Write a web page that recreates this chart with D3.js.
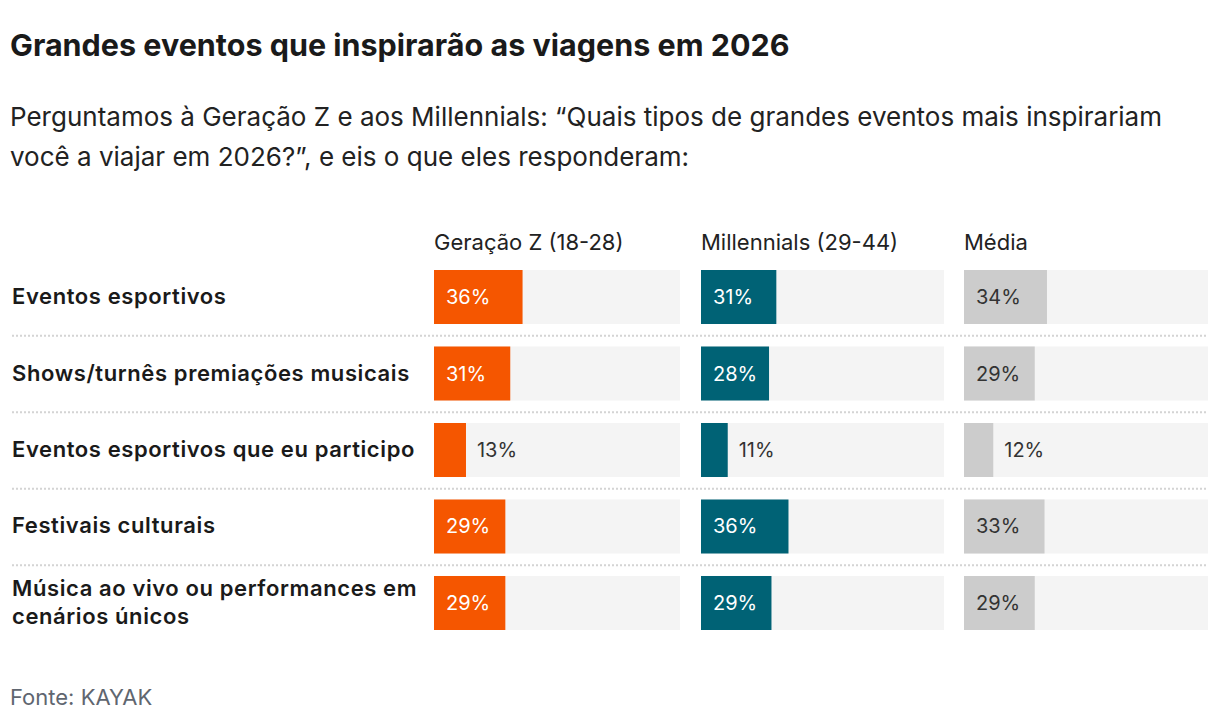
<!DOCTYPE html>
<html>
<head>
<meta charset="utf-8">
<script src="https://cdn.jsdelivr.net/npm/d3@7"></script>
<style>
  body { margin: 0; background: #fff; }
  svg { display: block; font-family: Inter, "Noto Sans", sans-serif; }
</style>
</head>
<body>
<div id="chart"></div>
<script>
const categories = [
  ["Eventos esportivos"],
  ["Shows/turnês premiações musicais"],
  ["Eventos esportivos que eu participo"],
  ["Festivais culturais"],
  ["Música ao vivo ou performances em", "cenários únicos"]
];
const seriesNames = ["Geração Z (18-28)", "Millennials (29-44)", "Média"];
const genZ = [36, 31, 13, 29, 29];
const millennials = [31, 28, 11, 36, 29];
const media = [34, 29, 12, 33, 29];

const title = "Grandes eventos que inspirarão as viagens em 2026";
const subtitle = [
  "Perguntamos à Geração Z e aos Millennials: “Quais tipos de grandes eventos mais inspirariam",
  "você a viajar em 2026?”, e eis o que eles responderam:"
];
const source = "Fonte: KAYAK";

const width = 1220, height = 726;
const colors = ["#f55600", "#006275", "#cccccc"];
const labelColors = ["#ffffff", "#ffffff", "#333333"];
const cols = [[434, 680], [701, 944], [964, 1208]];
const series = [genZ, millennials, media];

const svg = d3.select("#chart").append("svg")
  .attr("width", width)
  .attr("height", height);

svg.append("text")
  .attr("x", 10).attr("y", 56)
  .attr("font-size", 30.5).attr("font-weight", 700)
  .attr("fill", "#1a1a1a")
  .text(title);

svg.append("g").selectAll("text")
  .data(subtitle)
  .join("text")
  .attr("x", 10).attr("y", (d, i) => 126 + i * 40)
  .attr("font-size", 26).attr("fill", "#222")
  .text(d => d);

const y = d3.scaleBand()
  .domain(d3.range(categories.length))
  .range([270, 630])
  .paddingInner(0.294);

// dotted separators between rows
svg.append("g").selectAll("line")
  .data(d3.range(categories.length - 1))
  .join("line")
  .attr("x1", 12).attr("x2", 1208)
  .attr("y1", i => y(i) + y.bandwidth() + y.step() * 0.294 / 2 + 0.5)
  .attr("y2", i => y(i) + y.bandwidth() + y.step() * 0.294 / 2 + 0.5)
  .attr("stroke", "#d4d4d4").attr("stroke-width", 2)
  .attr("stroke-dasharray", "2,2");

// row labels
svg.append("g").selectAll("text")
  .data(categories)
  .join("text")
  .attr("x", 12)
  .attr("font-size", 22).attr("font-weight", 600)
  .attr("letter-spacing", 0.6)
  .attr("fill", "#1a1a1a")
  .each(function(lines, i) {
    const cy = y(i) + y.bandwidth() / 2;
    const lh = 28;
    const y0 = cy + 7 - (lines.length - 1) * lh / 2;
    d3.select(this).selectAll("tspan")
      .data(lines)
      .join("tspan")
      .attr("x", 12)
      .attr("y", (d, j) => y0 + j * lh)
      .text(d => d);
  });

series.forEach((vals, s) => {
  const x = d3.scaleLinear().domain([0, 100]).range(cols[s]);
  const g = svg.append("g");

  g.append("text")
    .attr("x", cols[s][0]).attr("y", 250)
    .attr("font-size", 22).attr("fill", "#222")
    .text(seriesNames[s]);

  g.selectAll("rect.track")
    .data(vals)
    .join("rect")
    .attr("class", "track")
    .attr("x", x(0)).attr("width", x(100) - x(0))
    .attr("y", (d, i) => y(i)).attr("height", y.bandwidth())
    .attr("fill", "#f4f4f4");

  g.selectAll("rect.bar")
    .data(vals)
    .join("rect")
    .attr("class", "bar")
    .attr("x", x(0)).attr("width", d => x(d) - x(0))
    .attr("y", (d, i) => y(i)).attr("height", y.bandwidth())
    .attr("fill", colors[s]);

  g.selectAll("text.val")
    .data(vals)
    .join("text")
    .attr("class", "val")
    .attr("font-size", 20)
    .attr("y", (d, i) => y(i) + y.bandwidth() / 2 + 7)
    .each(function(d) {
      const inside = x(d) - x(0) > 60;
      d3.select(this)
        .attr("x", inside ? x(0) + 12 : x(d) + 11)
        .attr("fill", inside ? labelColors[s] : "#333333");
    })
    .text(d => d + "%");
});

svg.append("text")
  .attr("x", 10).attr("y", 705)
  .attr("font-size", 22).attr("fill", "#5f6670")
  .text(source);
</script>
</body>
</html>
